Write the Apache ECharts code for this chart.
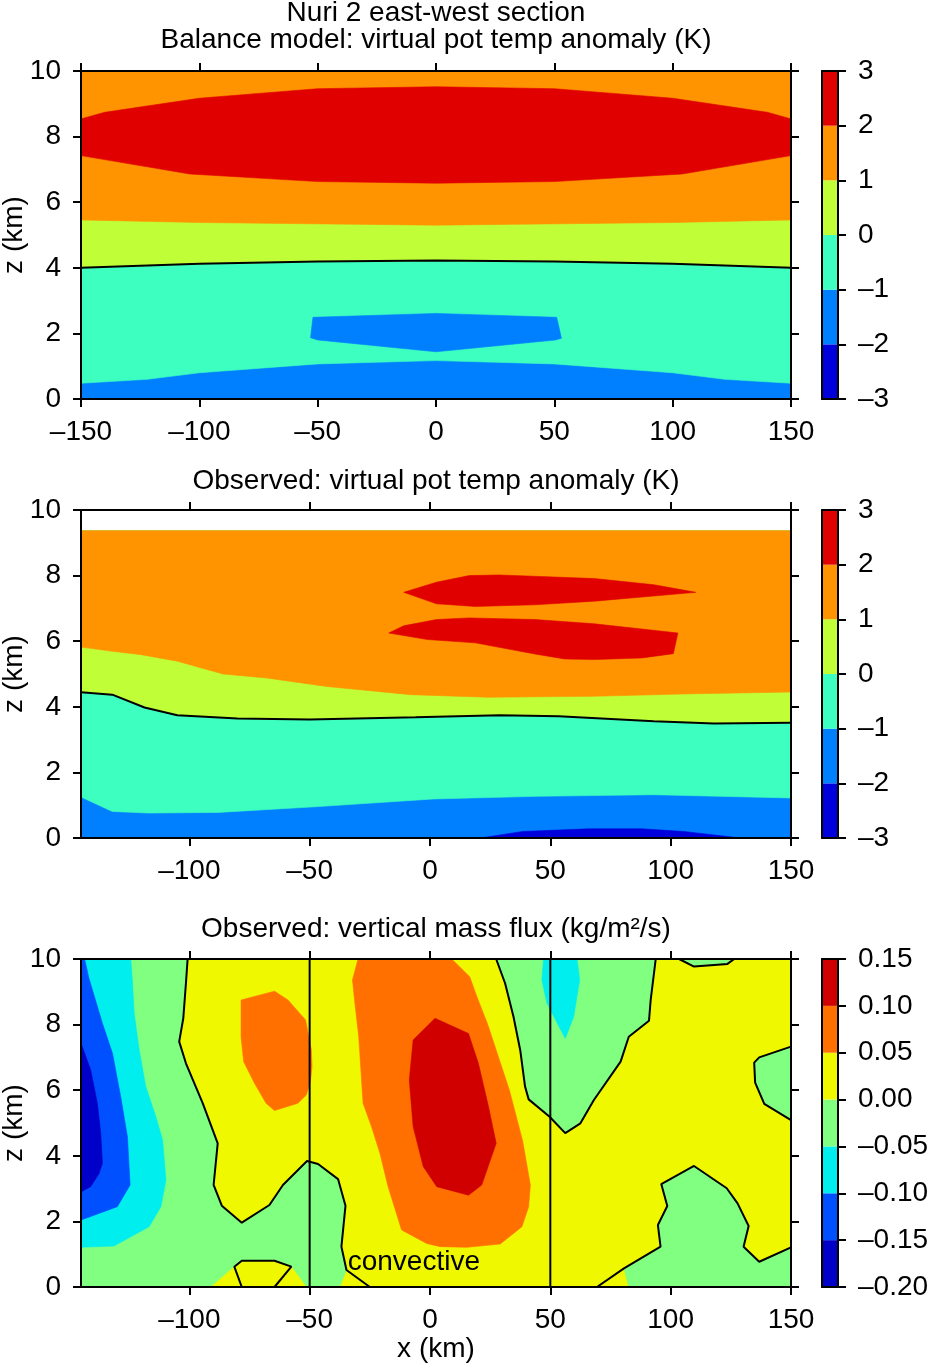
<!DOCTYPE html>
<html>
<head>
<meta charset="utf-8">
<title>Nuri 2 east-west section</title>
<script src="https://cdn.jsdelivr.net/npm/echarts@6.0.0/dist/echarts.min.js"></script>
<style>
  html, body { margin: 0; padding: 0; background: #fff; }
  #chart { width: 931px; height: 1364px; }
</style>
</head>
<body>
<div id="chart"></div>
<script>
const FONT = "Liberation Sans";

// colour scales
const thetaLevels = [-3, -2, -1, 0, 1, 2, 3];
const thetaColors = ["#0000dc", "#0080ff", "#3cffc0", "#c0ff38", "#ff9400", "#e00000"];
const fluxLevels = [-0.2, -0.15, -0.1, -0.05, 0, 0.05, 0.1, 0.15];
const fluxColors = ["#0000c8", "#0050ff", "#00eeee", "#80ff80", "#f0f800", "#ff7000", "#d00000"];

// axes
const xTicksBal = [-150, -100, -50, 0, 50, 100, 150];
const xTicksObs = [-100, -50, 0, 50, 100, 150];
const zTicks = [0, 2, 4, 6, 8, 10];

// panel 1: balance model, contour boundaries [x, z]
const balBlueTop = [[-150, 0.48], [-122, 0.6], [-100, 0.8], [-50, 1.07], [0, 1.17], [50, 1.07], [100, 0.8], [122, 0.6], [150, 0.48]];
const balZeroLine = [[-150, 4.0], [-100, 4.12], [-50, 4.19], [0, 4.22], [50, 4.19], [100, 4.12], [150, 4.0]];
const balOrangeBase = [[-150, 5.46], [-100, 5.38], [0, 5.3], [100, 5.38], [150, 5.46]];
const balRedLow = [[-150, 7.42], [-104, 6.86], [-50, 6.63], [0, 6.58], [50, 6.63], [104, 6.86], [150, 7.42]];
const balRedHigh = [[-150, 8.54], [-140, 8.74], [-100, 9.17], [-50, 9.46], [0, 9.52], [50, 9.46], [100, 9.17], [140, 8.74], [150, 8.54]];
const balBluePatch = [[-52, 2.49], [0, 2.61], [51, 2.49], [53, 1.85], [50.5, 1.8], [0, 1.44], [-50, 1.8], [-53, 1.87]];

// panel 2: observed theta_v
const obsTop = 9.37;
const obsDeepBlue = [[21, 0], [38.6, 0.2], [65.8, 0.28], [88.1, 0.28], [105.4, 0.2], [129, 0]];
const obsBlueTop = [[-145, 1.25], [-132, 0.81], [-117, 0.76], [-88, 0.78], [-48, 0.95], [1.5, 1.19], [44, 1.27], [93, 1.32], [150, 1.22]];
const obsZeroLine = [[-145, 4.44], [-132, 4.37], [-118.6, 3.98], [-105, 3.74], [-80, 3.64], [-50, 3.61], [-6, 3.68], [29, 3.74], [53.5, 3.71], [93, 3.56], [118, 3.49], [150, 3.51]];
const obsOrangeBase = [[-145, 5.82], [-132, 5.69], [-120, 5.59], [-105, 5.39], [-86, 5.0], [-68, 4.88], [-43, 4.62], [-8, 4.37], [24, 4.29], [68, 4.32], [105, 4.39], [150, 4.45]];
const obsRedUpper = [[-10.9, 7.49], [2.7, 7.8], [16.3, 8.0], [28.7, 8.02], [68.3, 7.91], [93.1, 7.72], [110.4, 7.49], [68.3, 7.22], [43.6, 7.11], [18.8, 7.06], [2.7, 7.14]];
const obsRedLower = [[-17.1, 6.25], [-10.9, 6.47], [2.7, 6.66], [16.3, 6.71], [43.6, 6.66], [68.3, 6.53], [103, 6.25], [101.1, 5.62], [88.1, 5.49], [68.3, 5.44], [55.9, 5.46], [43.6, 5.61], [18.8, 5.95], [-1, 6.05]];

// panel 3: vertical mass flux
const fluxGreenLeft = [[-145, 10], [-100.7, 10], [-101.4, 9.26], [-102.5, 8.19], [-104.2, 7.48], [-101.4, 6.82], [-94.4, 5.6], [-88.2, 4.38], [-89.9, 3.11], [-86.5, 2.48], [-78.2, 1.96], [-66.7, 2.5], [-61.1, 3.11], [-51.1, 3.84], [-46.5, 3.75], [-38.2, 3.29], [-35.1, 2.48], [-36.1, 1.74], [-36.8, 1.23], [-34.7, 0.52], [-37.5, 0], [-145, 0]];
const fluxYellowPatch = [[-91, 0], [-81.3, 0.62], [-78.2, 0.8], [-64.6, 0.8], [-57.6, 0.62], [-51.4, 0]];
const fluxCyanLeft = [[-145, 10], [-124.3, 10], [-123.6, 9.26], [-122.9, 8.34], [-120.8, 7.22], [-118.1, 6.11], [-113.9, 5.19], [-111.1, 4.48], [-109.7, 3.26], [-111.8, 2.45], [-116.7, 1.84], [-131.3, 1.25], [-145, 1.21]];
const fluxBlueLeft = [[-145, 10], [-143.5, 10], [-141.7, 9.41], [-136.1, 8.04], [-131.9, 7.12], [-128.5, 5.8], [-125.7, 4.58], [-124.6, 3.11], [-129.9, 2.45], [-145, 2.04]];
const fluxDarkLeft = [[-145, 7.43], [-141, 6.62], [-138.2, 5.6], [-136.8, 4.69], [-136.1, 3.77], [-137.5, 3.46], [-141, 3.06], [-145, 2.9]];
const fluxOrangeLeft = [[-78.5, 8.75], [-64.6, 9.02], [-59, 8.75], [-51.7, 8.14], [-49.3, 7.23], [-49, 6.72], [-49.7, 6.26], [-51.4, 5.85], [-54.9, 5.6], [-64.6, 5.38], [-68.1, 5.6], [-72.9, 6.21], [-77.4, 6.87], [-78.5, 7.63]];
const fluxOrangeMid = [[-29.9, 10], [-32.2, 9.36], [-31.2, 8.65], [-29.6, 7.63], [-27.8, 5.6], [-24.3, 4.89], [-20.8, 4.08], [-17.4, 3.06], [-11.8, 1.74], [-1.4, 1.33], [4.2, 1.23], [15.3, 1.21], [29.2, 1.31], [38.2, 1.84], [41, 2.45], [41.7, 3.11], [38.5, 4.45], [33, 6.0], [28.5, 7.0], [24, 8.0], [19.5, 8.85], [16.5, 9.46], [9, 10]];
const fluxRedMid = [[2.1, 8.19], [16, 7.73], [20.1, 6.82], [24.3, 5.5], [27.5, 4.38], [21.5, 3.11], [16, 2.8], [2.8, 3.06], [-2.8, 3.67], [-7, 4.89], [-8.6, 6.31], [-7, 7.53]];
const fluxGreenMid = [[27.5, 10], [31.2, 9.26], [34.7, 8.24], [37.5, 7.22], [39.5, 6.11], [41, 5.72], [49.7, 5.19], [56.2, 4.69], [62.5, 4.99], [68.1, 5.7], [79.2, 6.87], [82.6, 7.63], [91, 8.12], [91.7, 8.75], [93.8, 10]];
const fluxCyanMid = [[47.2, 10], [46.5, 9.36], [48.6, 8.65], [56.2, 7.58], [59.7, 8.24], [62.2, 9.36], [61.1, 10]];
const fluxGreenTopRight = [[103.5, 10], [109.7, 9.77], [123.6, 9.85], [126.4, 10]];
const fluxGreenRight = [[150, 7.33], [136.8, 7.0], [134.7, 6.84], [135.1, 6.23], [138.9, 5.58], [150, 5.09]];
const fluxGreenBottomRight = [[82.6, 0], [80.6, 0.57], [95.8, 1.23], [94.7, 1.89], [98.6, 2.47], [96.1, 3.14], [109.7, 3.69], [123.3, 3.01], [127.8, 2.55], [132.4, 1.86], [130.3, 1.23], [136.8, 0.77], [150, 1.21], [150, 0]];
const fluxZeroLeft = [[-100.7, 10], [-101.4, 9.26], [-102.5, 8.19], [-104.2, 7.48], [-101.4, 6.82], [-94.4, 5.6], [-88.2, 4.38], [-89.9, 3.11], [-86.5, 2.48], [-78.2, 1.96], [-66.7, 2.5], [-61.1, 3.11], [-51.1, 3.84], [-46.5, 3.75], [-38.2, 3.29], [-35.1, 2.48], [-36.1, 1.74], [-36.8, 1.23], [-34.7, 0.52], [-25, 0]];
const fluxZeroPatch = [[-78.2, 0], [-81.3, 0.62], [-78.2, 0.8], [-64.6, 0.8], [-57.6, 0.62], [-64.6, 0]];
const fluxZeroBottomRight = [[69.4, 0], [80.6, 0.57], [95.8, 1.23], [94.7, 1.89], [98.6, 2.47], [96.1, 3.14], [109.7, 3.69], [123.3, 3.01], [127.8, 2.55], [132.4, 1.86], [130.3, 1.23], [136.8, 0.77], [150, 1.21]];
const regionEdges = [-50, 50];
const convectivePos = [-6.7, 0.76];

const grids = [], xAxes = [], yAxes = [], series = [];
const black = { color: "#000", width: 2 };
const LABEL = { color: "#000", fontFamily: FONT, fontSize: 28 };
const dash = v => String(v).replace("-", "\u2013");

function addPlot(top, xmin, xticks, xName) {
  const g = grids.length;
  grids.push({ left: 81, top: top, width: 710, height: 328, containLabel: false, outerBoundsMode: "none" });
  const ax = { xi: xAxes.length, yi: yAxes.length };
  const xBase = {
    type: "value", gridIndex: g, min: xmin, max: 150, z: 10,
    splitLine: { show: false },
    axisLine: { show: true, onZero: false, lineStyle: black },
    axisTick: { show: true, inside: false, length: 8, lineStyle: black, customValues: xticks }
  };
  xAxes.push(Object.assign({}, xBase, {
    position: "bottom",
    axisLabel: Object.assign({ margin: 19, customValues: xticks, formatter: dash }, LABEL),
    name: xName, nameLocation: "middle", nameGap: 48, nameMoveOverlap: false, nameTextStyle: LABEL
  }));
  xAxes.push(Object.assign({}, xBase, { position: "top", axisLabel: { show: false } }));
  const yBase = {
    type: "value", gridIndex: g, min: 0, max: 10, z: 10,
    splitLine: { show: false },
    axisLine: { show: true, onZero: false, lineStyle: black },
    axisTick: { show: true, inside: false, length: 8, lineStyle: black, customValues: zTicks }
  };
  yAxes.push(Object.assign({}, yBase, {
    position: "left",
    axisLabel: Object.assign({ margin: 20, customValues: zTicks }, LABEL),
    name: "z (km)", nameLocation: "middle", nameRotate: 90, nameGap: 53, nameMoveOverlap: false, nameTextStyle: LABEL
  }));
  yAxes.push(Object.assign({}, yBase, { position: "right", axisLabel: { show: false } }));
  return ax;
}

function addColorbar(top, levels, colors, digits) {
  const g = grids.length;
  grids.push({ left: 822, top: top, width: 16, height: 328, containLabel: false, outerBoundsMode: "none" });
  const xi = xAxes.length, yi = yAxes.length;
  const lo = levels[0], hi = levels[levels.length - 1];
  ["bottom", "top"].forEach(pos => xAxes.push({
    type: "value", gridIndex: g, min: 0, max: 1, position: pos, z: 10,
    axisLine: { show: true, onZero: false, lineStyle: black },
    axisTick: { show: false }, axisLabel: { show: false }, splitLine: { show: false }
  }));
  yAxes.push({
    type: "value", gridIndex: g, min: lo, max: hi, position: "left", z: 10,
    axisLine: { show: true, onZero: false, lineStyle: black },
    axisTick: { show: false }, axisLabel: { show: false }, splitLine: { show: false }
  });
  yAxes.push({
    type: "value", gridIndex: g, min: lo, max: hi, position: "right", z: 10,
    axisLine: { show: true, onZero: false, lineStyle: black },
    axisTick: { show: true, inside: false, length: 8, lineStyle: black, customValues: levels },
    axisLabel: Object.assign({ margin: 20, customValues: levels, formatter: v => dash(v.toFixed(digits)) }, LABEL),
    splitLine: { show: false }
  });
  series.push({
    type: "custom", xAxisIndex: xi, yAxisIndex: yi, silent: true,
    data: levels.slice(0, -1).map((v, i) => [v, levels[i + 1], i]),
    renderItem: (params, api) => {
      const p0 = api.coord([0, api.value(0)]);
      const p1 = api.coord([1, api.value(1)]);
      return {
        type: "rect",
        shape: { x: p0[0], y: p1[1], width: p1[0] - p0[0], height: p0[1] - p1[1] },
        style: { fill: colors[api.value(2)] }
      };
    }
  });
}

function fill(ax, pts, color) {
  series.push({
    type: "custom", xAxisIndex: ax.xi, yAxisIndex: ax.yi, silent: true, clip: true, z: 2,
    data: [pts[0]],
    renderItem: (params, api) => ({
      type: "polygon",
      shape: { points: pts.map(p => api.coord(p)) },
      style: { fill: color, stroke: color, lineWidth: 0.6 }
    })
  });
}

function contour(ax, pts, width) {
  series.push({
    type: "line", xAxisIndex: ax.xi, yAxisIndex: ax.yi, data: pts, z: 4,
    symbol: "none", silent: true, clip: true,
    lineStyle: { color: "#000", width: width || 2 }
  });
}

const above = (curve, top) => curve.concat([[curve[curve.length - 1][0], top], [curve[0][0], top]]);
const box = (x0, x1, z0, z1) => [[x0, z0], [x1, z0], [x1, z1], [x0, z1]];

// panel 1
const a1 = addPlot(71, -150, xTicksBal, "");
fill(a1, box(-150, 150, 0, 10), thetaColors[1]);
fill(a1, above(balBlueTop, 10), thetaColors[2]);
fill(a1, above(balZeroLine, 10), thetaColors[3]);
fill(a1, above(balOrangeBase, 10), thetaColors[4]);
fill(a1, balRedLow.concat(balRedHigh.slice().reverse()), thetaColors[5]);
fill(a1, balBluePatch, thetaColors[1]);
contour(a1, balZeroLine);
addColorbar(71, thetaLevels, thetaColors, 0);

// panel 2
const a2 = addPlot(510, -145, xTicksObs, "");
fill(a2, box(-145, 150, 0, obsTop), thetaColors[1]);
fill(a2, obsDeepBlue, thetaColors[0]);
fill(a2, above(obsBlueTop, obsTop), thetaColors[2]);
fill(a2, above(obsZeroLine, obsTop), thetaColors[3]);
fill(a2, above(obsOrangeBase, obsTop), thetaColors[4]);
fill(a2, obsRedUpper, thetaColors[5]);
fill(a2, obsRedLower, thetaColors[5]);
contour(a2, obsZeroLine);
addColorbar(510, thetaLevels, thetaColors, 0);

// panel 3
const a3 = addPlot(959, -145, xTicksObs, "x (km)");
fill(a3, box(-145, 150, 0, 10), fluxColors[4]);
fill(a3, fluxGreenLeft, fluxColors[3]);
fill(a3, fluxYellowPatch, fluxColors[4]);
fill(a3, fluxCyanLeft, fluxColors[2]);
fill(a3, fluxBlueLeft, fluxColors[1]);
fill(a3, fluxDarkLeft, fluxColors[0]);
fill(a3, fluxOrangeLeft, fluxColors[5]);
fill(a3, fluxOrangeMid, fluxColors[5]);
fill(a3, fluxRedMid, fluxColors[6]);
fill(a3, fluxGreenMid, fluxColors[3]);
fill(a3, fluxCyanMid, fluxColors[2]);
fill(a3, fluxGreenTopRight, fluxColors[3]);
fill(a3, fluxGreenRight, fluxColors[3]);
fill(a3, fluxGreenBottomRight, fluxColors[3]);
[fluxZeroLeft, fluxZeroPatch, fluxGreenMid, fluxGreenTopRight, fluxGreenRight, fluxZeroBottomRight].forEach(c => contour(a3, c));
regionEdges.forEach(x => contour(a3, [[x, 0], [x, 10]], 2));
series.push({
  type: "custom", xAxisIndex: a3.xi, yAxisIndex: a3.yi, silent: true, z: 6,
  data: [convectivePos],
  renderItem: (params, api) => {
    const c = api.coord(convectivePos);
    return {
      type: "text", x: c[0], y: c[1],
      style: { text: "convective", fill: "#000", font: "28px " + FONT, align: "center", verticalAlign: "middle", textAlign: "center", textVerticalAlign: "middle" }
    };
  }
});
addColorbar(959, fluxLevels, fluxColors, 2);

const titleStyle = txt => ({ text: txt, fill: "#000", font: "28px " + FONT, textAlign: "center", textVerticalAlign: "middle", align: "center", verticalAlign: "middle" });

const chart = echarts.init(document.getElementById("chart"));
chart.setOption({
  animation: false,
  grid: grids,
  xAxis: xAxes,
  yAxis: yAxes,
  series: series,
  graphic: [
    { type: "text", x: 436, y: 13, style: titleStyle("Nuri 2 east-west section") },
    { type: "text", x: 436, y: 40, style: titleStyle("Balance model: virtual pot temp anomaly (K)") },
    { type: "text", x: 436, y: 481, style: titleStyle("Observed: virtual pot temp anomaly (K)") },
    { type: "text", x: 436, y: 929, style: titleStyle("Observed: vertical mass flux (kg/m\u00b2/s)") }
  ]
});
</script>
</body>
</html>
